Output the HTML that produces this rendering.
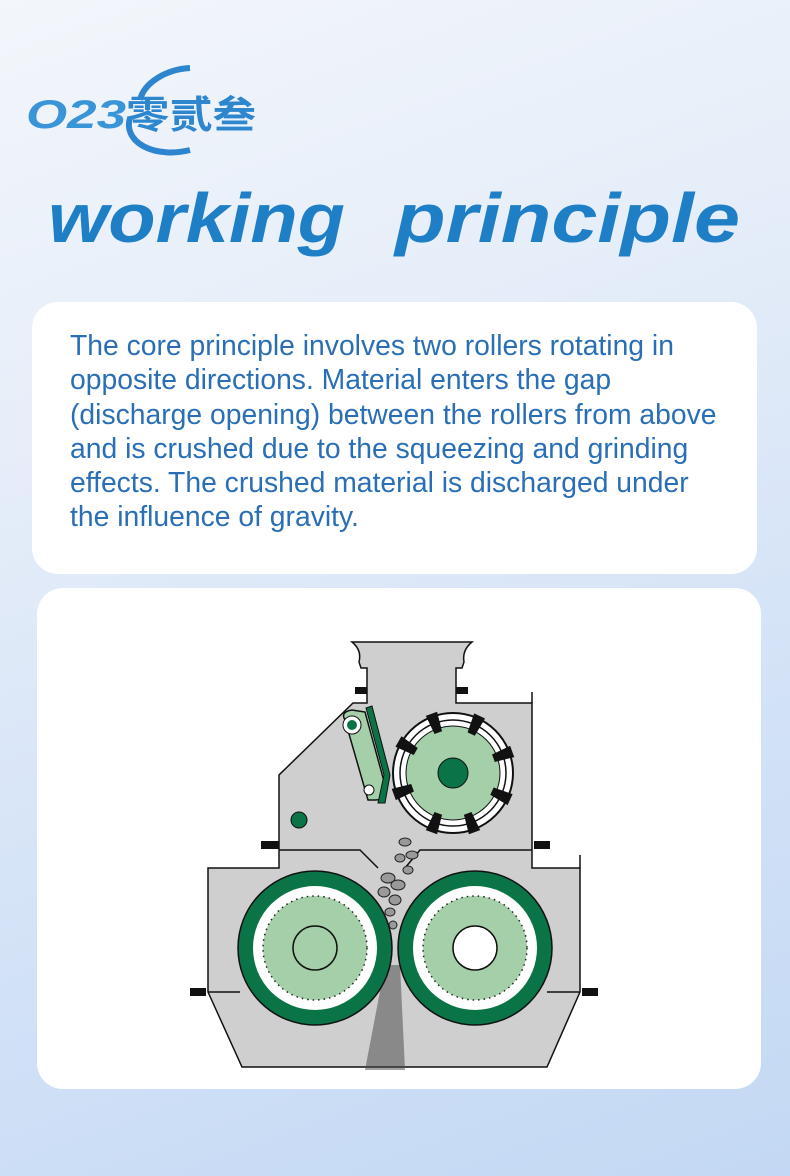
<!DOCTYPE html>
<html><head><meta charset="utf-8"><style>
body{margin:0;width:790px;height:1176px;overflow:hidden;position:relative;font-family:"Liberation Sans","Noto Sans CJK SC",sans-serif;
background:linear-gradient(160deg,#f3f6fb 0%,#e6eef9 30%,#d6e4f7 60%,#c3d8f4 100%);}
.card1{position:absolute;left:32px;top:302px;width:725px;height:272px;background:#fff;border-radius:26px}
.card1 p{margin:0;position:absolute;left:38px;top:26px;white-space:nowrap;font-size:28.3px;line-height:34.3px;color:#2a6fb5}
.card2{position:absolute;left:37px;top:588px;width:724px;height:501px;background:#fff;border-radius:26px}
</style></head><body>
<svg style="position:absolute;left:0;top:0" width="790" height="300" viewBox="0 0 790 300">
<path d="M140 100 A48 32 -10 0 1 190 68" stroke="#2d85cf" stroke-width="6" fill="none"/>
<path d="M130 118 A50 32 -10 0 0 190 150" stroke="#2d85cf" stroke-width="6" fill="none"/>
<text x="26" y="128" font-size="40" font-weight="bold" font-style="italic" fill="#3a95d8" font-family="Liberation Sans" textLength="100" lengthAdjust="spacingAndGlyphs">O23</text>
<text x="126" y="128" font-size="38" font-weight="bold" fill="#2e86cf" font-family="Noto Sans CJK SC,sans-serif" textLength="130" lengthAdjust="spacingAndGlyphs">零贰叁</text>
<text x="48" y="242" font-size="70" font-weight="bold" font-style="italic" fill="#1f7fc6" font-family="Liberation Sans" textLength="297" lengthAdjust="spacingAndGlyphs">working</text>
<text x="395" y="242" font-size="70" font-weight="bold" font-style="italic" fill="#1f7fc6" font-family="Liberation Sans" textLength="345" lengthAdjust="spacingAndGlyphs">principle</text>
</svg>
<div class="card1"><p>The core principle involves two rollers rotating in<br>opposite directions. Material enters the gap<br>(discharge opening) between the rollers from above<br>and is crushed due to the squeezing and grinding<br>effects. The crushed material is discharged under<br>the influence of gravity.</p></div>
<div class="card2"></div>
<svg style="position:absolute;left:0;top:0" width="790" height="1176" viewBox="0 0 790 1176">
<g stroke="#111" stroke-width="1.5" fill="#cfcfcf">
<path d="M352 642 L472 642 Q462 650 464 662 L462 668 L456 668 L456 703 L532 703 L532 850 L532 868 L580 868 L580 992 L547 1067 L242 1067 L208 992 L208 868 L279 868 L279 775 L353 703 L367 703 L367 668 L361 668 L359 662 Q362 650 352 642 Z"/>
<path d="M279 850 L360 850 L378 868 M532 850 L420 850 L405 868" fill="none"/>
<path d="M208 992 L240 992 M547 992 L580 992" fill="none"/>
<path d="M532 692 L532 703 M580 855 L580 868" fill="none"/>
</g>
<g fill="#111">
<rect x="190" y="988" width="16" height="8"/><rect x="582" y="988" width="16" height="8"/>
<rect x="261" y="841" width="18" height="8"/><rect x="534" y="841" width="16" height="8"/>
<rect x="355" y="687" width="12" height="7"/><rect x="456" y="687" width="12" height="7"/>
</g>
<path d="M345 720 Q340 712 352 710 L365 712 L385 785 Q388 800 375 800 L368 800 Z" fill="#a4cfa8" stroke="#111" stroke-width="1.5"/>
<path d="M366 708 L372 706 L390 775 L385 803 L378 803 L384 775 Z" fill="#0b7446" stroke="#111"/>
<circle cx="352" cy="725" r="9" fill="#fff" stroke="#111"/><circle cx="352" cy="725" r="5" fill="#0b7446"/>
<circle cx="369" cy="790" r="5" fill="#fff" stroke="#111"/>
<circle cx="299" cy="820" r="8" fill="#0b7446" stroke="#111"/>
<circle cx="453" cy="773" r="60" fill="#fff" stroke="#111" stroke-width="2"/>
<circle cx="453" cy="773" r="53" fill="none" stroke="#111" stroke-width="1.5"/>
<circle cx="453" cy="773" r="47" fill="#a4cfa8" stroke="#111"/>
<circle cx="453" cy="773" r="15" fill="#0b7446" stroke="#111"/>
<g fill="#111">
<g transform="rotate(-60 453 773)"><path d="M447 710 L459 710 L457 730 L449 730 Z"/></g>
<g transform="rotate(-20 453 773)"><path d="M447 710 L459 710 L457 730 L449 730 Z"/></g>
<g transform="rotate(25 453 773)"><path d="M447 710 L459 710 L457 730 L449 730 Z"/></g>
<g transform="rotate(70 453 773)"><path d="M447 710 L459 710 L457 730 L449 730 Z"/></g>
<g transform="rotate(115 453 773)"><path d="M447 710 L459 710 L457 730 L449 730 Z"/></g>
<g transform="rotate(160 453 773)"><path d="M447 710 L459 710 L457 730 L449 730 Z"/></g>
<g transform="rotate(200 453 773)"><path d="M447 710 L459 710 L457 730 L449 730 Z"/></g>
<g transform="rotate(250 453 773)"><path d="M447 710 L459 710 L457 730 L449 730 Z"/></g>
</g>
<g fill="#999" stroke="#222" stroke-width="1">
<ellipse cx="405" cy="842" rx="6" ry="4"/><ellipse cx="412" cy="855" rx="6" ry="4"/><ellipse cx="400" cy="858" rx="5" ry="4"/>
<ellipse cx="408" cy="870" rx="5" ry="4"/><ellipse cx="388" cy="878" rx="7" ry="5"/><ellipse cx="398" cy="885" rx="7" ry="5"/>
<ellipse cx="384" cy="892" rx="6" ry="5"/><ellipse cx="395" cy="900" rx="6" ry="5"/><ellipse cx="390" cy="912" rx="5" ry="4"/><ellipse cx="393" cy="925" rx="4" ry="4"/>
</g>
<path d="M385 965 L400 965 L405 1070 L365 1070 Z" fill="#444" opacity="0.5"/>
<circle cx="315" cy="948" r="77" fill="#0b7446" stroke="#111" stroke-width="1.5"/>
<circle cx="315" cy="948" r="62" fill="#fff"/>
<circle cx="315" cy="948" r="52" fill="#a4cfa8" stroke="#222" stroke-width="1.5" stroke-dasharray="1.5 4"/>
<circle cx="315" cy="948" r="22" fill="#a4cfa8" stroke="#111" stroke-width="1.5"/>
<circle cx="475" cy="948" r="77" fill="#0b7446" stroke="#111" stroke-width="1.5"/>
<circle cx="475" cy="948" r="62" fill="#fff"/>
<circle cx="475" cy="948" r="52" fill="#a4cfa8" stroke="#222" stroke-width="1.5" stroke-dasharray="1.5 4"/>
<circle cx="475" cy="948" r="22" fill="#fff" stroke="#111" stroke-width="1.5"/>
</svg>
</body></html>
